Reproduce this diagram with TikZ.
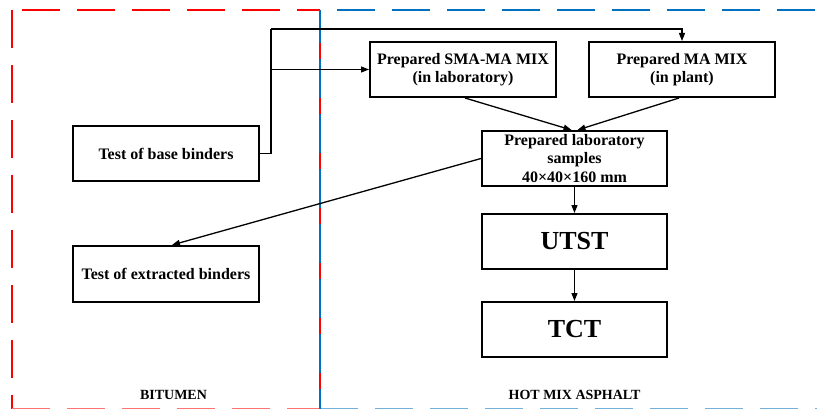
\documentclass[tikz,border=0pt]{standalone}
\usepackage{fontspec}
\setmainfont{Liberation Serif}
\usetikzlibrary{arrows.meta,calc}
\definecolor{rred}{RGB}{255,0,0}
\definecolor{bblue}{RGB}{0,112,192}
\begin{document}
\begin{tikzpicture}[x=1pt,y=-1pt,
  box/.style={draw,line width=2pt,minimum width=186pt,minimum height=55pt,inner sep=0pt,align=center,
    font=\fontsize{16}{18.5}\selectfont\bfseries},
  bigbox/.style={box,font=\fontsize{26}{30}\selectfont\bfseries},
  conn/.style={line width=1.3pt,-{Triangle[length=8pt,width=6pt]}},
  plainline/.style={line width=1.3pt},
  lab/.style={font=\fontsize{14}{16}\selectfont\bfseries,anchor=base},
  redb/.style={rred,line width=2.6pt,dash pattern=on 38pt off 17pt},
  blueb/.style={bblue,line width=2.6pt,dash pattern=on 38pt off 17pt}]
\useasboundingbox (0,0) rectangle (817,409);
% region borders
\draw[redb] (22,10) -- (320,10);
\draw[blueb,dash phase=38pt] (320,10) -- (817,10);
\draw[redb] (12,10) -- (12,409);
\draw[redb,rred!55,line width=1.8pt] (12,408.5) -- (320,408.5);
\draw[blueb,bblue!55,line width=1.8pt] (320,408.5) -- (817,408.5);
\draw[bblue,line width=2.6pt] (320,10) -- (320,409);
\draw[rred,line width=1.4pt,dash pattern=on 16pt off 39pt,dash phase=22pt] (320,10) -- (320,409);
% boxes
\node[box] (base) at (166,153.5) {Test of base binders};
\node[box,minimum height=56pt] (ext) at (166,274) {Test of extracted binders};
\node[box] (sma) at (463,69.5) {Prepared SMA-MA MIX\\(in laboratory)};
\node[box] (ma) at (682,69.5) {Prepared MA MIX\\(in plant)};
\node[box,minimum width=185pt] (samp) at (574.5,158.5) {Prepared laboratory\\samples\\40×40×160 mm};
\node[bigbox,minimum width=185pt] (utst) at (574.5,241.5) {UTST};
\node[bigbox,minimum width=185pt] (tct) at (574.5,329.5) {TCT};
% connectors
\coordinate (jt) at (271,29);
\draw[plainline] (base.east) -| (jt);
\draw[conn] (jt) -| (ma.north);
\draw[conn] (jt |- sma.west) -- (sma.west);
\draw[conn] ($(sma.south)+(2,0)$) -- ($(samp.north)+(-3,0)$);
\draw[conn] ($(ma.south)+(-3,0)$) -- ($(samp.north)+(3,0)$);
\draw[conn] (samp.west) -- ($(ext.north)+(6,0)$);
\draw[conn] (samp.south) -- (utst.north);
\draw[conn] (utst.south) -- (tct.north);
% labels
\node[lab] (bit) at (173.5,399) {BITUMEN};
\node[lab] (hma) at (574.5,399) {HOT MIX ASPHALT};
\end{tikzpicture}
\end{document}
